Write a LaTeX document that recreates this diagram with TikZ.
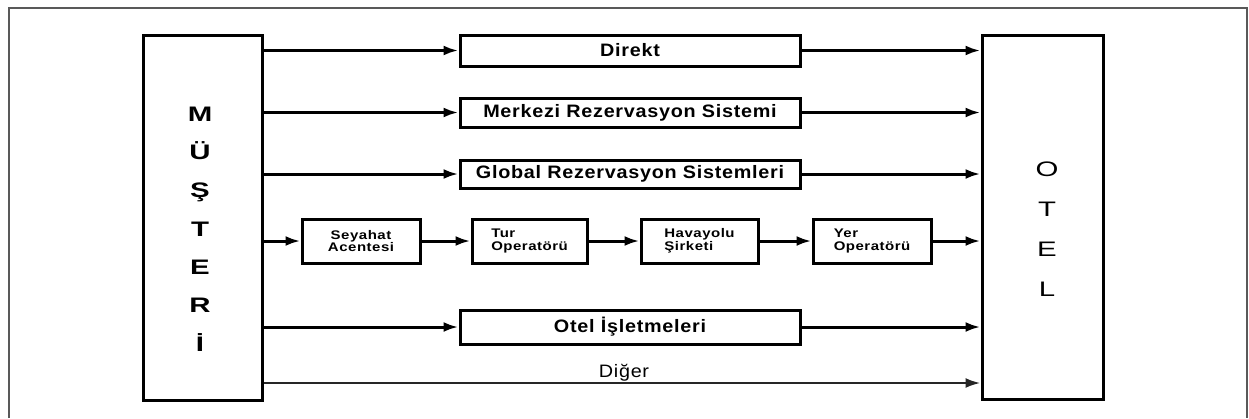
\documentclass[tikz,border=0pt]{standalone}
\usepackage{fontspec}
\setmainfont{Liberation Sans}
\newfontfamily\bfont[FakeStretch=1.1,LetterSpace=4]{Liberation Sans}
\newfontfamily\sfont[FakeStretch=1.2,LetterSpace=4]{Liberation Sans}
\newfontfamily\bigfont[FakeStretch=1.4]{Liberation Sans}
\usetikzlibrary{arrows.meta}
\begin{document}
\begin{tikzpicture}[x=1pt,y=-1pt,
  box/.style={draw, line width=3pt, inner sep=0pt},
  lbl/.style={font=\bfont\bfseries\fontsize{18}{20}\selectfont},
  sm/.style={font=\sfont\bfseries\fontsize{12.5}{12.5}\selectfont},
  big/.style={align=center, inner sep=0pt},
  arr/.style={line width=3pt, -{Latex[length=15pt,width=10pt]}},
  thinarr/.style={line width=2.4pt, draw=black!85, -{Latex[length=15pt,width=10pt]}},
  frame/.style={draw=black!65, line width=1.8pt}]
\useasboundingbox (0,0) rectangle (1249,418);
\draw[frame] (9,418) -- (9,8) -- (1247,8) -- (1247,418);
% main blocks
\node[box, minimum width=119pt, minimum height=365pt] (mus) at (202.5,217.5) {};
\node[box, minimum width=121pt, minimum height=364pt] (otel) at (1042.5,217) {};
\node[big, font=\bigfont\bfseries\fontsize{21}{38.3}\selectfont] (must) at (200,229) {M\\Ü\\Ş\\T\\E\\R\\İ};
\node[big, font=\bigfont\fontsize{21}{40}\selectfont] (otelt) at (1047,229) {O\\T\\E\\L};
% channel boxes
\node[box, lbl, minimum width=340pt, minimum height=31pt] (dir) at (630,50.5) {Direkt};
\node[box, lbl, minimum width=340pt, minimum height=29pt] (mrs) at (630,112.5) {Merkezi Rezervasyon Sistemi};
\node[box, lbl, minimum width=340pt, minimum height=28pt] (grs) at (630,174) {Global Rezervasyon Sistemleri};
\node[box, sm, align=center, minimum width=118pt, minimum height=44pt] (sey) at (361,241) {Seyahat\\Acentesi};
\node[box, sm, align=left, minimum width=115pt, minimum height=44pt] (tur) at (529.5,241) {Tur\\Operatörü};
\node[box, sm, align=left, minimum width=117pt, minimum height=44pt] (hav) at (699.5,241) {Havayolu\\Şirketi};
\node[box, sm, align=left, minimum width=118pt, minimum height=44pt] (yer) at (872,241) {Yer\\Operatörü};
\node[box, lbl, minimum width=340pt, minimum height=34pt] (oti) at (630,327) {Otel İşletmeleri};
\coordinate (dg) at (624,383);
\node[lbl, font=\bfont\fontsize{18}{20}\selectfont, anchor=base] (dig) at (624,377) {Diğer};
% connectors
\foreach \b in {dir,mrs,grs,oti} {
  \draw[arr] (mus.east |- \b.west) -- (\b.west);
  \draw[arr] (\b.east) -- (otel.west |- \b.east);
}
\draw[arr] (mus.east |- sey.west) -- (sey.west);
\draw[arr] (sey.east) -- (tur.west);
\draw[arr] (tur.east) -- (hav.west);
\draw[arr] (hav.east) -- (yer.west);
\draw[arr] (yer.east) -- (otel.west |- yer.east);
\draw[thinarr] (mus.east |- dg) -- (otel.west |- dg);
\end{tikzpicture}
\end{document}
